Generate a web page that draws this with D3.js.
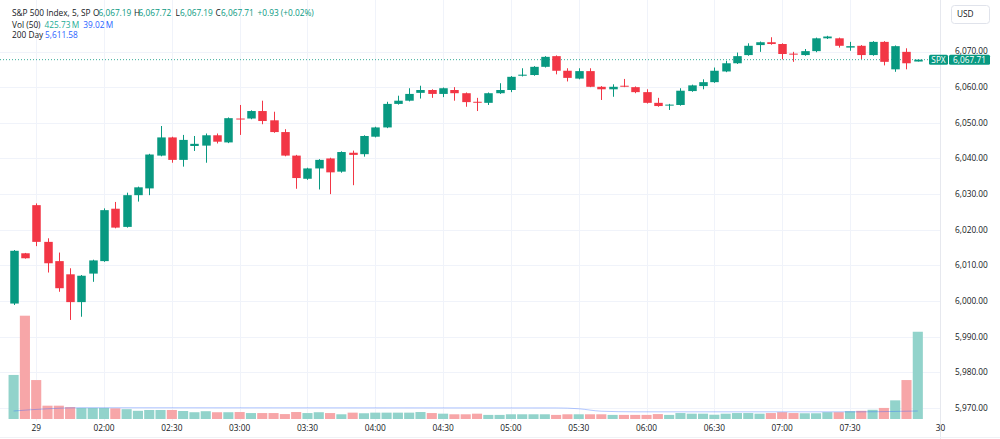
<!DOCTYPE html>
<html>
<head>
<meta charset="utf-8">
<script src="https://d3js.org/d3.v7.min.js"></script>
<style>
  body { margin: 0; background: #fff; }
  svg text { font-family: "Open Sans", "Noto Sans", sans-serif; font-size: 8.3px; fill: #131722; }
  .grid line { stroke: #f0f3fa; stroke-width: 1px; }
</style>
</head>
<body>
<svg id="chart" width="1000" height="439"></svg>
<script>
// 5 minute bars, one per slot
const opens  = [5999.3,6013.4,6026.9,6016.6,6011.2,6007.5,5999.7,6007.7,6011.2,6025.9,
                6020.8,6029.7,6031.6,6040.8,6045.9,6039.6,6043.5,6043.6,6046.5,6044.5,
                6051.2,6051.2,6053.3,6050.7,6047.4,6040.8,6034.3,6037.2,6040.0,6036.3,
                6041.6,6041.2,6046.1,6048.7,6055.3,6056.2,6058.4,6059.2,6058.1,6059.2,
                6058.3,6055.9,6055.6,6058.3,6059.2,6063.2,6063.4,6065.7,6068.7,6064.6,
                6062.4,6064.5,6060.1,6059.4,6060.4,6060.0,6058.6,6055.6,6054.9,6055.0,
                6058.9,6060.3,6061.4,6064.4,6066.7,6069.0,6071.8,6072.6,6072.1,6069.4,
                6069.0,6070.1,6073.7,6073.7,6071.1,6071.6,6069.0,6072.7,6065.0,6069.9,
                6067.19];
const highs  = [6014.3,6013.5,6027.4,6017.6,6013.6,6009.2,6007.3,6011.6,6026.0,6027.8,
                6030.4,6032.1,6041.3,6049.1,6046.1,6046.6,6046.3,6047.0,6047.0,6051.5,
                6055.0,6053.5,6056.2,6053.1,6048.2,6041.0,6037.4,6039.8,6040.2,6042.0,
                6042.2,6046.5,6048.9,6055.9,6057.6,6059.7,6060.4,6059.4,6059.9,6060.0,
                6058.5,6057.0,6058.5,6061.1,6063.1,6065.3,6065.9,6068.7,6068.9,6065.3,
                6065.3,6065.3,6060.3,6060.8,6062.3,6060.2,6059.4,6057.0,6055.3,6059.7,
                6060.7,6062.2,6065.5,6067.4,6069.7,6072.3,6072.8,6074.0,6072.3,6069.9,
                6070.7,6073.9,6074.4,6073.9,6072.7,6071.8,6072.9,6072.9,6071.7,6070.9,
                6067.72];
const lows   = [5998.9,6011.9,6015.4,6008.0,6002.6,5994.7,5995.6,6005.4,6011.0,6020.4,
                6020.6,6027.9,6029.7,6040.6,6038.8,6037.7,6042.1,6038.8,6044.2,6044.3,
                6046.6,6051.0,6049.6,6047.2,6040.6,6031.5,6034.0,6031.3,6030.0,6036.0,
                6032.5,6040.5,6045.9,6048.5,6055.1,6056.0,6056.8,6057.0,6057.2,6056.2,
                6054.5,6053.3,6055.0,6058.1,6058.6,6063.0,6063.2,6065.5,6063.6,6061.6,
                6062.2,6060.0,6056.4,6057.3,6060.0,6058.3,6055.4,6054.5,6053.6,6054.8,
                6058.7,6059.4,6061.2,6064.2,6066.5,6068.8,6069.9,6071.9,6067.8,6067.1,
                6068.8,6069.8,6073.5,6071.1,6070.2,6067.9,6068.8,6066.1,6064.3,6065.0,
                6067.19];
const closes = [6014.1,6012.0,6016.6,6010.6,6003.6,5999.7,6007.1,6011.4,6025.5,6020.6,
                6029.7,6031.9,6041.1,6045.9,6039.6,6045.2,6044.1,6046.5,6044.7,6051.3,
                6051.0,6053.3,6050.5,6047.4,6040.8,6034.5,6037.2,6039.6,6036.1,6041.8,
                6041.0,6046.3,6048.7,6055.3,6056.2,6058.1,6059.2,6058.1,6059.7,6058.3,
                6055.8,6055.7,6058.3,6059.2,6062.9,6063.5,6065.7,6068.5,6064.6,6062.6,
                6064.5,6060.1,6059.4,6060.1,6060.2,6058.6,6055.6,6054.7,6055.1,6059.0,
                6060.5,6061.4,6064.6,6066.7,6068.7,6071.6,6072.6,6072.1,6069.3,6069.2,
                6070.1,6073.7,6074.2,6071.6,6071.5,6069.0,6072.7,6067.1,6071.5,6066.7,
                6067.71];
// volume in millions
const volumes = [215,504,190,65,65,58,54,54,54,52,
                 48,40,44,44,44,39,33,38,33,33,
                 34,29,29,29,24,34,29,33,29,23,
                 31,28,31,31,31,31,34,29,26,23,
                 23,26,20,20,23,23,23,23,20,23,
                 23,23,23,20,20,20,20,24,20,29,
                 26,26,21,26,29,29,26,29,33,29,
                 28,28,33,33,38,40,45,54,91,190,
                 425.73];
// Vol MA(50) read at a few bars
const maIndex  = [0, 3, 6, 48, 50, 52, 55, 75, 78, 80];
const maValues = [39, 50, 55, 54, 50, 38, 35, 35, 37, 39];

const tickIndex  = [2, 8, 14, 20, 26, 32, 38, 44, 50, 56, 62, 68, 74, 82];
const tickLabels = ["29","02:00","02:30","03:00","03:30","04:00","04:30","05:00","05:30","06:00","06:30","07:00","07:30","30"];
const priceTicks = [5970,5980,5990,6000,6010,6020,6030,6040,6050,6060,6070];
const lastPrice = 6067.71;

const up = "#089981", down = "#f23645";
const volUp = "#92d3cb", volDown = "#f7a6a8";

const svg = d3.select("#chart");
const paneRight = 940;

const x = d3.scaleLinear().domain([0, 82]).range([13.6, 940.4]);
const y = d3.scaleLinear().domain([5970, 6070]).range([408, 51.5]);
const yVol = d3.scaleLinear().domain([0, 504]).range([419, 315.7]);
const step = x(1) - x(0);

const bars = opens.map((o, i) => ({
  i: i, o: o, h: highs[i], l: lows[i], c: closes[i], v: volumes[i], up: closes[i] >= o
}));

// grid
const grid = svg.append("g").attr("class", "grid");
grid.selectAll("line.h").data(priceTicks).join("line").attr("class", "h")
  .attr("x1", 0).attr("x2", paneRight)
  .attr("y1", d => Math.round(y(d)) + 0.5).attr("y2", d => Math.round(y(d)) + 0.5);
grid.selectAll("line.v").data(tickIndex.slice(0, -1)).join("line").attr("class", "v")
  .attr("x1", d => Math.round(x(d)) + 0.5).attr("x2", d => Math.round(x(d)) + 0.5)
  .attr("y1", 0).attr("y2", 421);

// volume
svg.append("g").selectAll("rect").data(bars).join("rect")
  .attr("x", d => x(d.i) - step / 2 + 0.6)
  .attr("width", step - 1.2)
  .attr("y", d => yVol(d.v))
  .attr("height", d => yVol(0) - yVol(d.v))
  .attr("fill", d => d.up ? volUp : volDown);

svg.append("path")
  .datum(maIndex.map((d, k) => [d, maValues[k]]))
  .attr("fill", "none").attr("stroke", "#2962ff").attr("stroke-opacity", 0.35).attr("stroke-width", 1)
  .attr("d", d3.line().x(d => x(d[0])).y(d => yVol(d[1])).curve(d3.curveMonotoneX));

// last price dotted line
svg.append("line")
  .attr("x1", 0).attr("x2", 929)
  .attr("y1", y(lastPrice)).attr("y2", y(lastPrice))
  .attr("stroke", up).attr("stroke-opacity", 0.8).attr("stroke-width", 1).attr("stroke-dasharray", "1,2");

// candles
const candles = svg.append("g").selectAll("g").data(bars).join("g");
candles.append("line")
  .attr("x1", d => Math.round(x(d.i)) + 0.5).attr("x2", d => Math.round(x(d.i)) + 0.5)
  .attr("y1", d => y(d.h)).attr("y2", d => y(d.l))
  .attr("stroke", d => d.up ? up : down).attr("stroke-width", 1);
candles.append("rect")
  .attr("x", d => Math.round(x(d.i)) + 0.5 - 4.25)
  .attr("width", 8.5)
  .attr("y", d => y(Math.max(d.o, d.c)))
  .attr("height", d => Math.max(1, Math.abs(y(d.o) - y(d.c))))
  .attr("fill", d => d.up ? up : down);

// right price scale
svg.append("line").attr("x1", paneRight + 0.5).attr("x2", paneRight + 0.5).attr("y1", 0).attr("y2", 439)
  .attr("stroke", "#e6e8ee");
svg.append("line").attr("x1", 0).attr("x2", 1000).attr("y1", 437.5).attr("y2", 437.5)
  .attr("stroke", "#f0f2f6");

const fmt = d3.format(",.2f");
svg.append("g").selectAll("text").data(priceTicks).join("text")
  .attr("x", 955).attr("y", d => y(d)).attr("dy", "0.35em")
  .text(d => fmt(d));

// USD box
svg.append("rect").attr("x", 951.5).attr("y", 5.5).attr("width", 38).attr("height", 18).attr("rx", 3)
  .attr("fill", "#fff").attr("stroke", "#e0e3eb");
svg.append("text").attr("x", 957).attr("y", 14.5).attr("dy", "0.35em").text("USD");

// last price label
const ly = y(lastPrice);
svg.append("rect").attr("x", 929).attr("y", ly - 5).attr("width", 19).attr("height", 10).attr("rx", 1.5).attr("fill", up);
svg.append("rect").attr("x", 949).attr("y", ly - 5).attr("width", 41).attr("height", 10).attr("rx", 1.5).attr("fill", up);
svg.append("text").attr("x", 938.5).attr("y", ly).attr("dy", "0.35em").attr("text-anchor", "middle")
  .style("fill", "#fff").text("SPX");
svg.append("text").attr("x", 969.5).attr("y", ly).attr("dy", "0.35em").attr("text-anchor", "middle")
  .style("fill", "#fff").text(fmt(lastPrice));

// time axis
svg.append("g").selectAll("text").data(tickIndex).join("text")
  .attr("x", d => x(d)).attr("y", 428.5).attr("dy", "0.35em").attr("text-anchor", "middle")
  .text((d, k) => tickLabels[k]);

// legend
const legend = [
  { x: 12,  y: 16.3, t: "S&P 500 Index, 5, SP", c: "#131722" },
  { x: 93,  y: 16.3, t: "O", c: "#131722" },
  { x: 98.5,  y: 16.3, t: fmt(opens[80]), c: up },
  { x: 134, y: 16.3, t: "H", c: "#131722" },
  { x: 138.5, y: 16.3, t: fmt(highs[80]), c: up },
  { x: 175.5, y: 16.3, t: "L", c: "#131722" },
  { x: 180, y: 16.3, t: fmt(lows[80]), c: up },
  { x: 215.5, y: 16.3, t: "C", c: "#131722" },
  { x: 221, y: 16.3, t: fmt(closes[80]), c: up },
  { x: 257.5, y: 16.3, t: "+0.93 (+0.02%)", c: up },
  { x: 12,  y: 38.2, t: "200 Day", c: "#131722" },
  { x: 45,  y: 38.2, t: "5,611.58", c: "#2962ff" }
];
svg.append("g").selectAll("text").data(legend).join("text")
  .attr("x", d => d.x).attr("y", d => d.y)
  .style("fill", d => d.c)
  .text(d => d.t);

// volume legend line, laid out one after another
const volLegend = [
  { t: "Vol (50)", c: "#131722" },
  { t: "425.73\u2009M", c: "#22ab94" },
  { t: "39.02\u2009M", c: "#2962ff" }
];
let vx = 12;
volLegend.forEach(d => {
  const t = svg.append("text").attr("x", vx).attr("y", 27.5).style("fill", d.c).text(d.t);
  vx += t.node().getComputedTextLength() + 4;
});
</script>
</body>
</html>
